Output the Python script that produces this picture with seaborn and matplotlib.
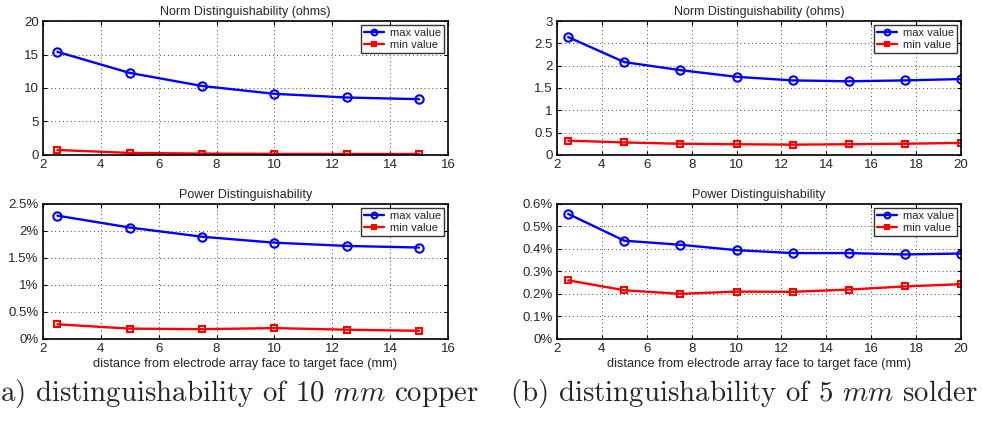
import matplotlib
matplotlib.use("Agg")
import matplotlib.pyplot as plt
import seaborn as sns
from matplotlib.ticker import FuncFormatter

# copper 10 mm
dist_cu = [2.5, 5, 7.5, 10, 12.5, 15]
norm_max_cu = [15.4, 12.25, 10.3, 9.13, 8.58, 8.33]
norm_min_cu = [0.74, 0.3, 0.2, 0.15, 0.14, 0.13]
power_max_cu = [2.28, 2.06, 1.89, 1.78, 1.72, 1.69]
power_min_cu = [0.27, 0.19, 0.18, 0.20, 0.17, 0.15]

# solder 5 mm
dist_sn = [2.5, 5, 7.5, 10, 12.5, 15, 17.5, 20]
norm_max_sn = [2.64, 2.08, 1.90, 1.75, 1.67, 1.65, 1.67, 1.70]
norm_min_sn = [0.32, 0.28, 0.25, 0.24, 0.23, 0.24, 0.25, 0.27]
power_max_sn = [0.555, 0.436, 0.418, 0.394, 0.381, 0.381, 0.375, 0.379]
power_min_sn = [0.26, 0.216, 0.20, 0.21, 0.209, 0.219, 0.233, 0.243]

sns.set_style("ticks")
plt.rcParams['font.family'] = ['Liberation Sans', 'DejaVu Sans']
plt.rcParams['xtick.direction'] = 'in'
plt.rcParams['ytick.direction'] = 'in'
plt.rcParams['mathtext.fontset'] = 'cm'

fig = plt.figure(figsize=(9.83, 4.21), dpi=100)

def panel(pos, x, ymax, ymin, title, xlim, ylim, yticks, pct=False, xlabel=None):
    ax = fig.add_axes(pos)
    sns.lineplot(x=x, y=ymax, ax=ax, color='blue', marker='o', label='max value',
                 markerfacecolor='none', markeredgecolor='blue', markeredgewidth=1.5,
                 markersize=6, linewidth=1.7)
    sns.lineplot(x=x, y=ymin, ax=ax, color='red', marker='s', label='min value',
                 markerfacecolor='none', markeredgecolor='red', markeredgewidth=1.5,
                 markersize=5, linewidth=1.7)
    ax.set_xlim(*xlim)
    ax.set_ylim(*ylim)
    ax.set_xticks(range(int(xlim[0]), int(xlim[1]) + 1, 2))
    ax.set_yticks(yticks)
    if pct:
        ax.yaxis.set_major_formatter(FuncFormatter(lambda v, p: '%g%%' % round(v, 3)))
    else:
        ax.yaxis.set_major_formatter(FuncFormatter(lambda v, p: '%g' % round(v, 3)))
    ax.grid(True, linestyle=(0, (1, 3)), color='#444444', linewidth=0.7)
    for s in ax.spines.values():
        s.set_color('black')
        s.set_linewidth(1.2)
    ax.tick_params(labelsize=9.5, color='black', length=3, top=True, right=True, pad=3)
    ax.set_title(title, fontsize=9, pad=4)
    ax.set_xlabel(xlabel if xlabel else '', fontsize=9.2, labelpad=2)
    ax.set_ylabel('')
    leg = ax.legend(loc='upper right', fontsize=8, frameon=True, fancybox=False,
                    borderaxespad=0.35, handlelength=1.8, labelspacing=0.15,
                    borderpad=0.3, handletextpad=0.5, markerscale=0.7)
    leg.get_frame().set_edgecolor('black')
    leg.get_frame().set_linewidth(1.0)
    return ax

xl = 'distance from electrode array face to target face (mm)'

panel([0.0437, 0.632, 0.412, 0.318], dist_cu, norm_max_cu, norm_min_cu,
      'Norm Distinguishability (ohms)', (2, 16), (0, 20), [0, 5, 10, 15, 20])
panel([0.0437, 0.195, 0.412, 0.321], dist_cu, power_max_cu, power_min_cu,
      'Power Distinguishability', (2, 16), (0, 2.5), [0, 0.5, 1, 1.5, 2, 2.5],
      pct=True, xlabel=xl)
panel([0.5666, 0.632, 0.411, 0.318], dist_sn, norm_max_sn, norm_min_sn,
      'Norm Distinguishability (ohms)', (2, 20), (0, 3), [0, 0.5, 1, 1.5, 2, 2.5, 3])
panel([0.5666, 0.195, 0.411, 0.321], dist_sn, power_max_sn, power_min_sn,
      'Power Distinguishability', (2, 20), (0, 0.6), [0, 0.1, 0.2, 0.3, 0.4, 0.5, 0.6],
      pct=True, xlabel=xl)

fig.text(0.0, 0.048, 'a) distinguishability of 10 $mm$ copper', family='cmr10',
         fontsize=20.8, ha='left', va='baseline')
fig.text(0.519, 0.048, '(b) distinguishability of 5 $mm$ solder', family='cmr10',
         fontsize=20.8, ha='left', va='baseline')

fig.savefig('out.png', dpi=100)
